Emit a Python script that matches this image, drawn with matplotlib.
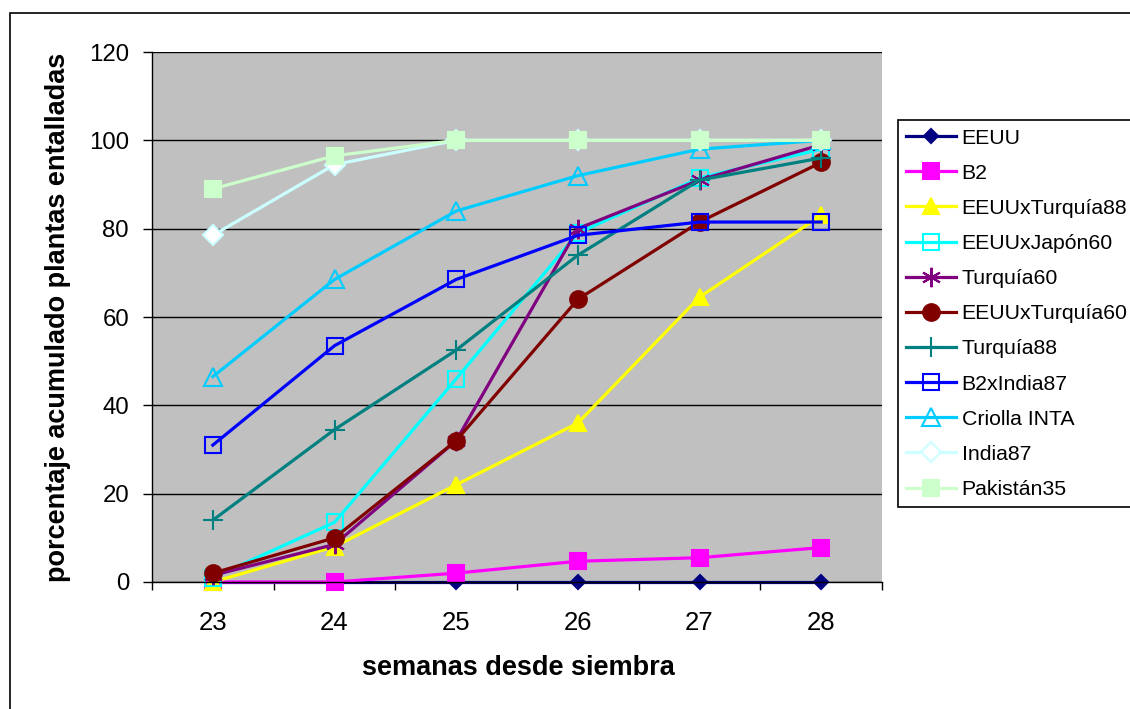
import numpy as np
import matplotlib.pyplot as plt
from matplotlib.patches import Rectangle

plt.rcParams['font.family'] = ['Liberation Sans', 'DejaVu Sans']

semanas = ['23', '24', '25', '26', '27', '28']

series = ['EEUU', 'B2', 'EEUUxTurquía88', 'EEUUxJapón60', 'Turquía60',
          'EEUUxTurquía60', 'Turquía88', 'B2xIndia87', 'Criolla INTA',
          'India87', 'Pakistán35']

eeuu = [0, 0, 0, 0, 0, 0]
b2 = [0, 0, 2, 4.7, 5.5, 7.8]
eeuu_tur88 = [0, 8, 22, 36, 64.5, 83]
eeuu_jap60 = [1, 13.5, 46, 79, 91.5, 98]
tur60 = [1.5, 8.5, 32, 80, 91, 99]
eeuu_tur60 = [2, 10, 32, 64, 81.5, 95]
tur88 = [14, 34.5, 52.5, 74, 91, 96]
b2_ind87 = [31, 53.5, 68.5, 78.5, 81.5, 81.5]
criolla = [46.5, 68.5, 84, 92, 98, 100]
india87 = [78.5, 94.5, 100, 100, 100, 100]
pak35 = [89, 96.5, 100, 100, 100, 100]

valores = [eeuu, b2, eeuu_tur88, eeuu_jap60, tur60, eeuu_tur60, tur88,
           b2_ind87, criolla, india87, pak35]

colores = ['#000080', '#FF00FF', '#FFFF00', '#00FFFF', '#800080', '#800000',
           '#008080', '#0000FF', '#00CCFF', '#CCFFFF', '#CCFFCC']
# marker, size, relleno
marcas = [('D', 7, 'full'), ('s', 11, 'full'), ('^', 12, 'full'),
          ('s', 12, 'none'), ((6, 2, 0), 14, 'full'), ('o', 12, 'full'),
          ('+', 14, 'full'), ('s', 12, 'none'), ('^', 13, 'none'),
          ('D', 10, 'white'), ('s', 11, 'full')]

fig = plt.figure(figsize=(11.3, 7.09), dpi=100)
fig.patches.append(Rectangle((10/1130, -0.05), 1.2, 1 - 13/709 + 0.05,
                             transform=fig.transFigure, fill=False,
                             edgecolor='black', linewidth=1.2))
ax = fig.add_axes([152/1130, 127/709, 730/1130, 530/709])
ax.set_facecolor('#C0C0C0')

x = np.arange(len(semanas))
for nombre, v, c, (m, ms, f) in zip(series, valores, colores, marcas):
    if f == 'full':
        mfc = c
    elif f == 'white':
        mfc = 'white'
    else:
        mfc = 'none'
    ax.plot(x, v, color=c, linewidth=2.3, marker=m, markersize=ms,
            markerfacecolor=mfc, markeredgecolor=c, markeredgewidth=1.5,
            label=nombre, clip_on=False)

ax.set_xlim(-0.5, 5.5)
ax.set_ylim(0, 120)
ax.set_yticks(range(0, 121, 20))
ax.yaxis.grid(True, color='black', linewidth=1)
ax.set_axisbelow(True)
ax.set_xticks(x)
ax.set_xticklabels(semanas)
ax.set_xticks(np.arange(-0.5, 6, 1), minor=True)
ax.tick_params(axis='x', which='major', length=0, pad=21, labelsize=18.5)
ax.tick_params(axis='x', which='minor', length=6, width=1)
ax.tick_params(axis='y', length=6.5, width=1, labelsize=17.3, pad=10)
for s in ['top', 'right']:
    ax.spines[s].set_visible(False)
ax.spines['left'].set_linewidth(1)
ax.spines['bottom'].set_linewidth(1)

fig.text(518/1130, 1 - 668/709, 'semanas desde siembra', fontsize=19.5,
         fontweight='bold', ha='center', va='center')
fig.text(58/1130, 1 - 317/709, 'porcentaje acumulado plantas entalladas',
         fontsize=19.5, fontweight='bold', ha='center', va='center',
         rotation=90)

leg = fig.legend(loc='upper left', bbox_to_anchor=(898/1130, 1 - 120/709),
                 fontsize=15.3, frameon=True, fancybox=False, edgecolor='black',
                 framealpha=1, handlelength=2.35, labelspacing=0.76,
                 borderpad=0.4, handletextpad=0.24, borderaxespad=0)
leg.get_frame().set_linewidth(1.2)

fig.savefig('out.png', dpi=100)
